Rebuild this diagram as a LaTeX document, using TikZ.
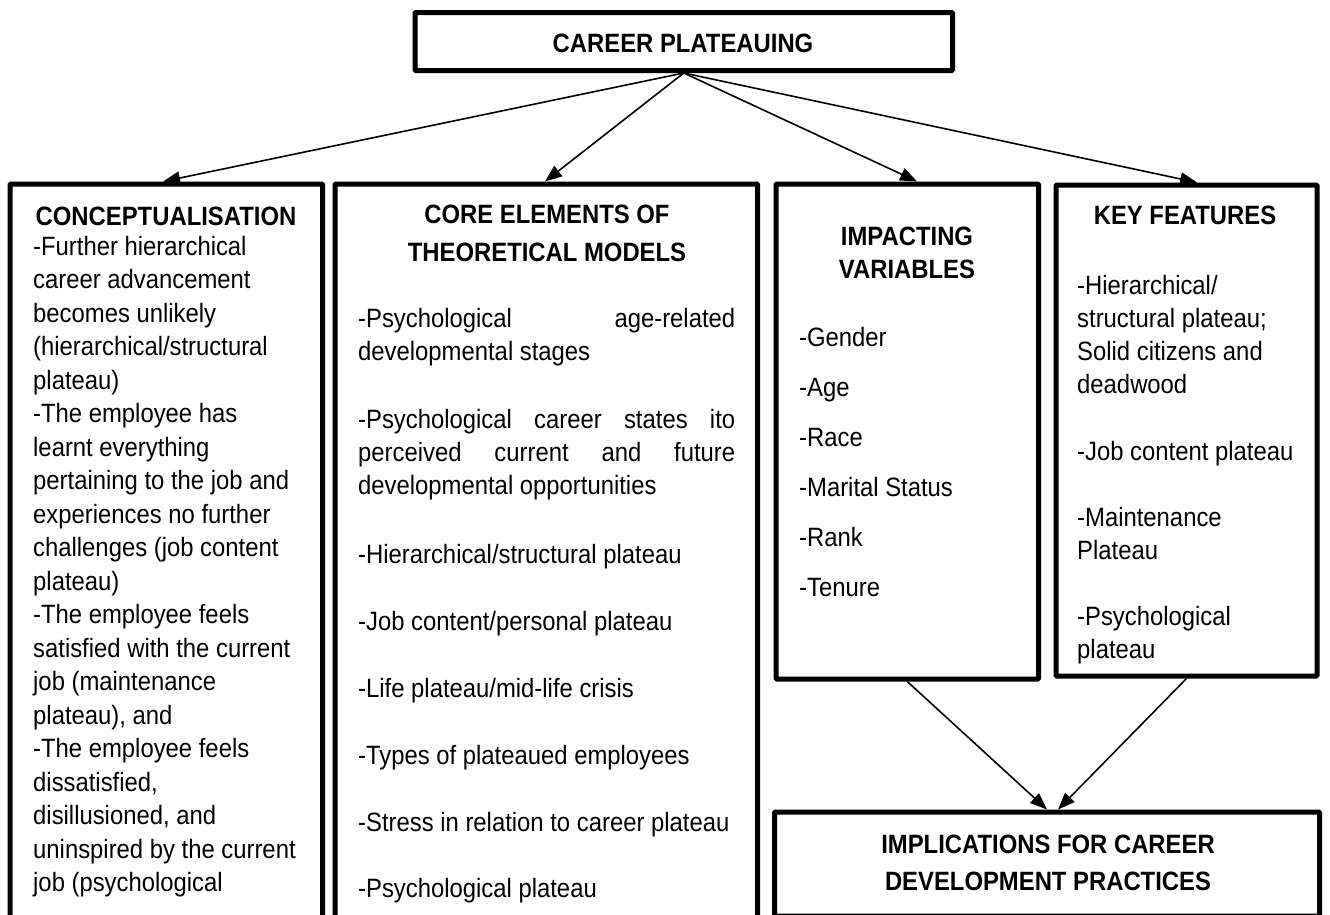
\documentclass[tikz,border=0pt]{standalone}
\usepackage{fontspec}
\setmainfont{Liberation Sans}[FakeStretch=0.9]
\usetikzlibrary{arrows.meta,calc}
\newcommand\bodysize{\fontsize{26.5pt}{33pt}\selectfont}
\begin{document}
\begin{tikzpicture}[x=1pt,y=-1pt,
  box/.style={draw=black, line width=5pt, rectangle, inner sep=0pt, rounded corners=1pt},
  txt/.style={inner sep=0pt, font=\bodysize, anchor=base west},
  ttl/.style={inner sep=0pt, font=\bodysize\bfseries, anchor=base},
  conn/.style={line width=1.6pt, -{Triangle[length=17pt,width=13pt]}}]
\useasboundingbox (0,0) rectangle (1330,914);
\fill[white] (0,0) rectangle (1330,914);

% boxes
\node[box, minimum width=537.5pt, minimum height=58pt] (top) at (683.75,41.5) {};
\node[box, minimum width=312.5pt, minimum height=756pt] (concept) at (166.25,562) {};
\node[box, minimum width=422.5pt, minimum height=756pt] (core) at (546.25,562) {};
\node[box, minimum width=262.5pt, minimum height=495pt] (impact) at (907.25,431.5) {};
\node[box, minimum width=261pt, minimum height=491pt] (key) at (1186.5,430.5) {};
\node[box, minimum width=545pt, minimum height=104pt] (impl) at (1047,864) {};

% titles
\node[ttl] (ttop) at (683,52) {CAREER PLATEAUING};
\node[ttl] (tconcept) at (166,225) {CONCEPTUALISATION};
\node[ttl] (tcore1) at (547,223) {CORE ELEMENTS OF};
\node[ttl] (tcore2) at (547,261) {THEORETICAL MODELS};
\node[ttl] (timp1) at (907,245) {IMPACTING};
\node[ttl] (timp2) at (907,278) {VARIABLES};
\node[ttl] (tkey) at (1185,224) {KEY FEATURES};
\node[ttl] (timpl1) at (1048,853) {IMPLICATIONS FOR CAREER};
\node[ttl] (timpl2) at (1048,890) {DEVELOPMENT PRACTICES};

% conceptualisation text
\foreach \i/\t in {0/{-Further hierarchical},1/{career advancement},2/{becomes unlikely},
  3/{(hierarchical/structural},4/{plateau)},5/{-The employee has},6/{learnt everything},
  7/{pertaining to the job and},8/{experiences no further},9/{challenges (job content},
  10/{plateau)},11/{-The employee feels},12/{satisfied with the current},
  13/{job (maintenance},14/{plateau), and},15/{-The employee feels},16/{dissatisfied,},
  17/{disillusioned, and},18/{uninspired by the current},19/{job (psychological}}
  \node[txt] (cl\i) at (33,{255+33.5*\i}) {\t};

% core elements text
\node[txt] (k1) at (358,327) {\makebox[377pt][s]{-Psychological age-related}};
\node[txt] (k2) at (358,360) {developmental stages};
\node[txt] (k3) at (358,428) {\makebox[377pt][s]{-Psychological career states ito}};
\node[txt] (k4) at (358,461) {\makebox[377pt][s]{perceived current and future}};
\node[txt] (k5) at (358,494) {developmental opportunities};
\node[txt] (k6) at (358,563) {-Hierarchical/structural plateau};
\node[txt] (k7) at (358,630) {-Job content/personal plateau};
\node[txt] (k8) at (358,697) {-Life plateau/mid-life crisis};
\node[txt] (k9) at (358,764) {-Types of plateaued employees};
\node[txt] (k10) at (358,831) {-Stress in relation to career plateau};
\node[txt] (k11) at (358,897) {-Psychological plateau};

% impacting variables text
\foreach \i/\t in {0/{-Gender},1/{-Age},2/{-Race},3/{-Marital Status},4/{-Rank},5/{-Tenure}}
  \node[txt] (iv\i) at (799,{346+50*\i}) {\t};

% key features text
\node[txt] (f1) at (1077,294) {-Hierarchical/};
\node[txt] (f2) at (1077,327) {structural plateau;};
\node[txt] (f3) at (1077,360) {Solid citizens and};
\node[txt] (f4) at (1077,393) {deadwood};
\node[txt] (f5) at (1077,460) {-Job content plateau};
\node[txt] (f6) at (1077,526) {-Maintenance};
\node[txt] (f7) at (1077,559) {Plateau};
\node[txt] (f8) at (1077,625) {-Psychological};
\node[txt] (f9) at (1077,658) {plateau};

% connectors
\draw[conn] (top.south) -- ($(concept.north west)!0.49!(concept.north east)$);
\draw[conn] (top.south) -- ($(core.north west)!0.497!(core.north east)$);
\draw[conn] (top.south) -- ($(impact.north west)!0.537!(impact.north east)$);
\draw[conn] (top.south) -- ($(key.north west)!0.54!(key.north east)$);
\draw[conn] (impact.south) -- ($(impl.north west)!0.5!(impl.north east)$);
\draw[conn] (key.south) -- ($(impl.north west)!0.52!(impl.north east)$);
\end{tikzpicture}
\end{document}
